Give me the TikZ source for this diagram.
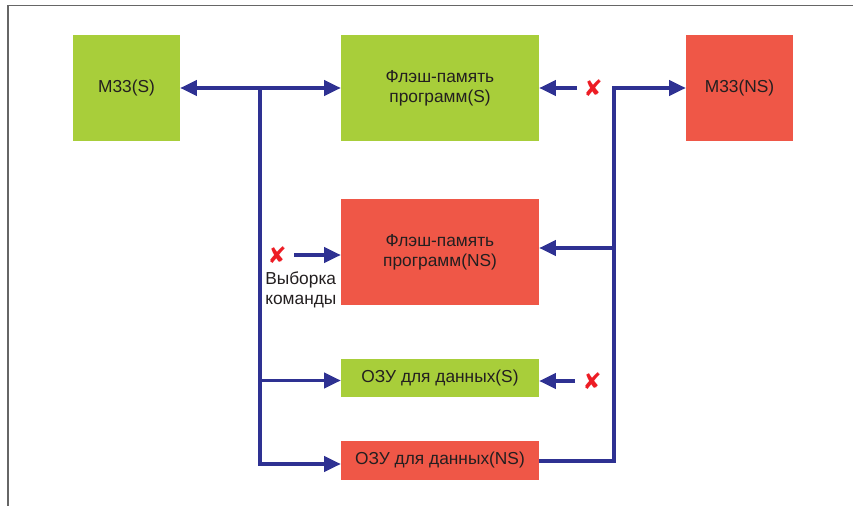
\documentclass[tikz,border=0pt]{standalone}
\usepackage{fontspec}
\setmainfont{Liberation Sans}
\newfontfamily\symfont{DejaVu Sans}
\usetikzlibrary{arrows.meta}
\definecolor{boxgreen}{HTML}{A8CE3A}
\definecolor{boxred}{HTML}{EF5747}
\definecolor{busblue}{HTML}{2E3192}
\definecolor{txt}{HTML}{231F20}
\definecolor{xred}{HTML}{ED1C24}
\tikzset{
  blk/.style={draw=none, inner sep=0pt, align=center, text=txt, font=\fontsize{13}{15}\selectfont},
  gbox/.style={blk, fill=boxgreen},
  rbox/.style={blk, fill=boxred},
  sq/.style={minimum width=80.25pt, minimum height=79.5pt},
  wide/.style={minimum width=148.5pt, minimum height=79.5pt},
  flat/.style={minimum width=148.5pt, minimum height=29pt},
  bus/.style={draw=busblue, line width=2.3pt},
  arr/.style={bus, -{Triangle[length=12.5pt, width=11.5pt]}},
  darr/.style={bus, {Triangle[length=12.5pt, width=11.5pt]}-{Triangle[length=12.5pt, width=11.5pt]}},
  nox/.style={text=xred, inner sep=0pt, font=\symfont\fontsize{17}{17}\selectfont},
  lbl/.style={inner sep=0pt, align=left, text=txt, font=\fontsize{13}{14.5}\selectfont}
}
\begin{document}
\begin{tikzpicture}[x=0.75pt, y=-0.75pt]
\useasboundingbox (0,0) rectangle (853,506);
% frame
\draw[gray!80!black, line width=1.3pt] (8,506) -- (8,5.5) -- (853,5.5);
% boxes
\node[gbox, sq] (ms) at (126.5,88) {M33(S)};
\node[gbox, wide] (fs) at (440,88) {Флэш-память\\программ(S)};
\node[rbox, sq] (mns) at (739.5,88) {M33(NS)};
\node[rbox, wide] (fns) at (440,252) {Флэш-память\\программ(NS)};
\node[gbox, flat] (os) at (440,378) {ОЗУ для данных(S)};
\node[rbox, flat] (ons) at (440,460.5) {ОЗУ для данных(NS)};
% bus coordinates
\coordinate (lt) at (260,88);
\coordinate (ls) at (260,380.5);
\coordinate (lb) at (260,464);
\coordinate (rt) at (614,88);
\coordinate (rf) at (614,248);
\coordinate (rb) at (614,461);
% left bus
\draw[darr] (ms.east) -- (fs.west);
\draw[bus] (lt) -- (ls);
\draw[arr] (ls) -- (os.west |- ls);
\draw[arr] (ls) -- (lb) -- (ons.west |- lb);
% right bus
\draw[arr] (ons.east |- rb) -- (rb) -- (rt) -- (mns.west);
\draw[arr] (rf) -- (fns.east |- rf);
% blocked accesses
\node[nox] (x1) at (593,88) {✘};
\coordinate (a1) at (577,88);
\draw[arr] (a1) -- (fs.east);
\node[nox] (x2) at (592,381) {✘};
\coordinate (a2) at (575,381);
\draw[arr] (a2) -- (os.east |- a2);
\node[nox] (x3) at (277,255) {✘};
\coordinate (a3) at (294,255);
\draw[arr] (a3) -- (fns.west |- a3);
\node[lbl, anchor=north west] (fetch) at (265,272) {Выборка\\команды};
\end{tikzpicture}
\end{document}
